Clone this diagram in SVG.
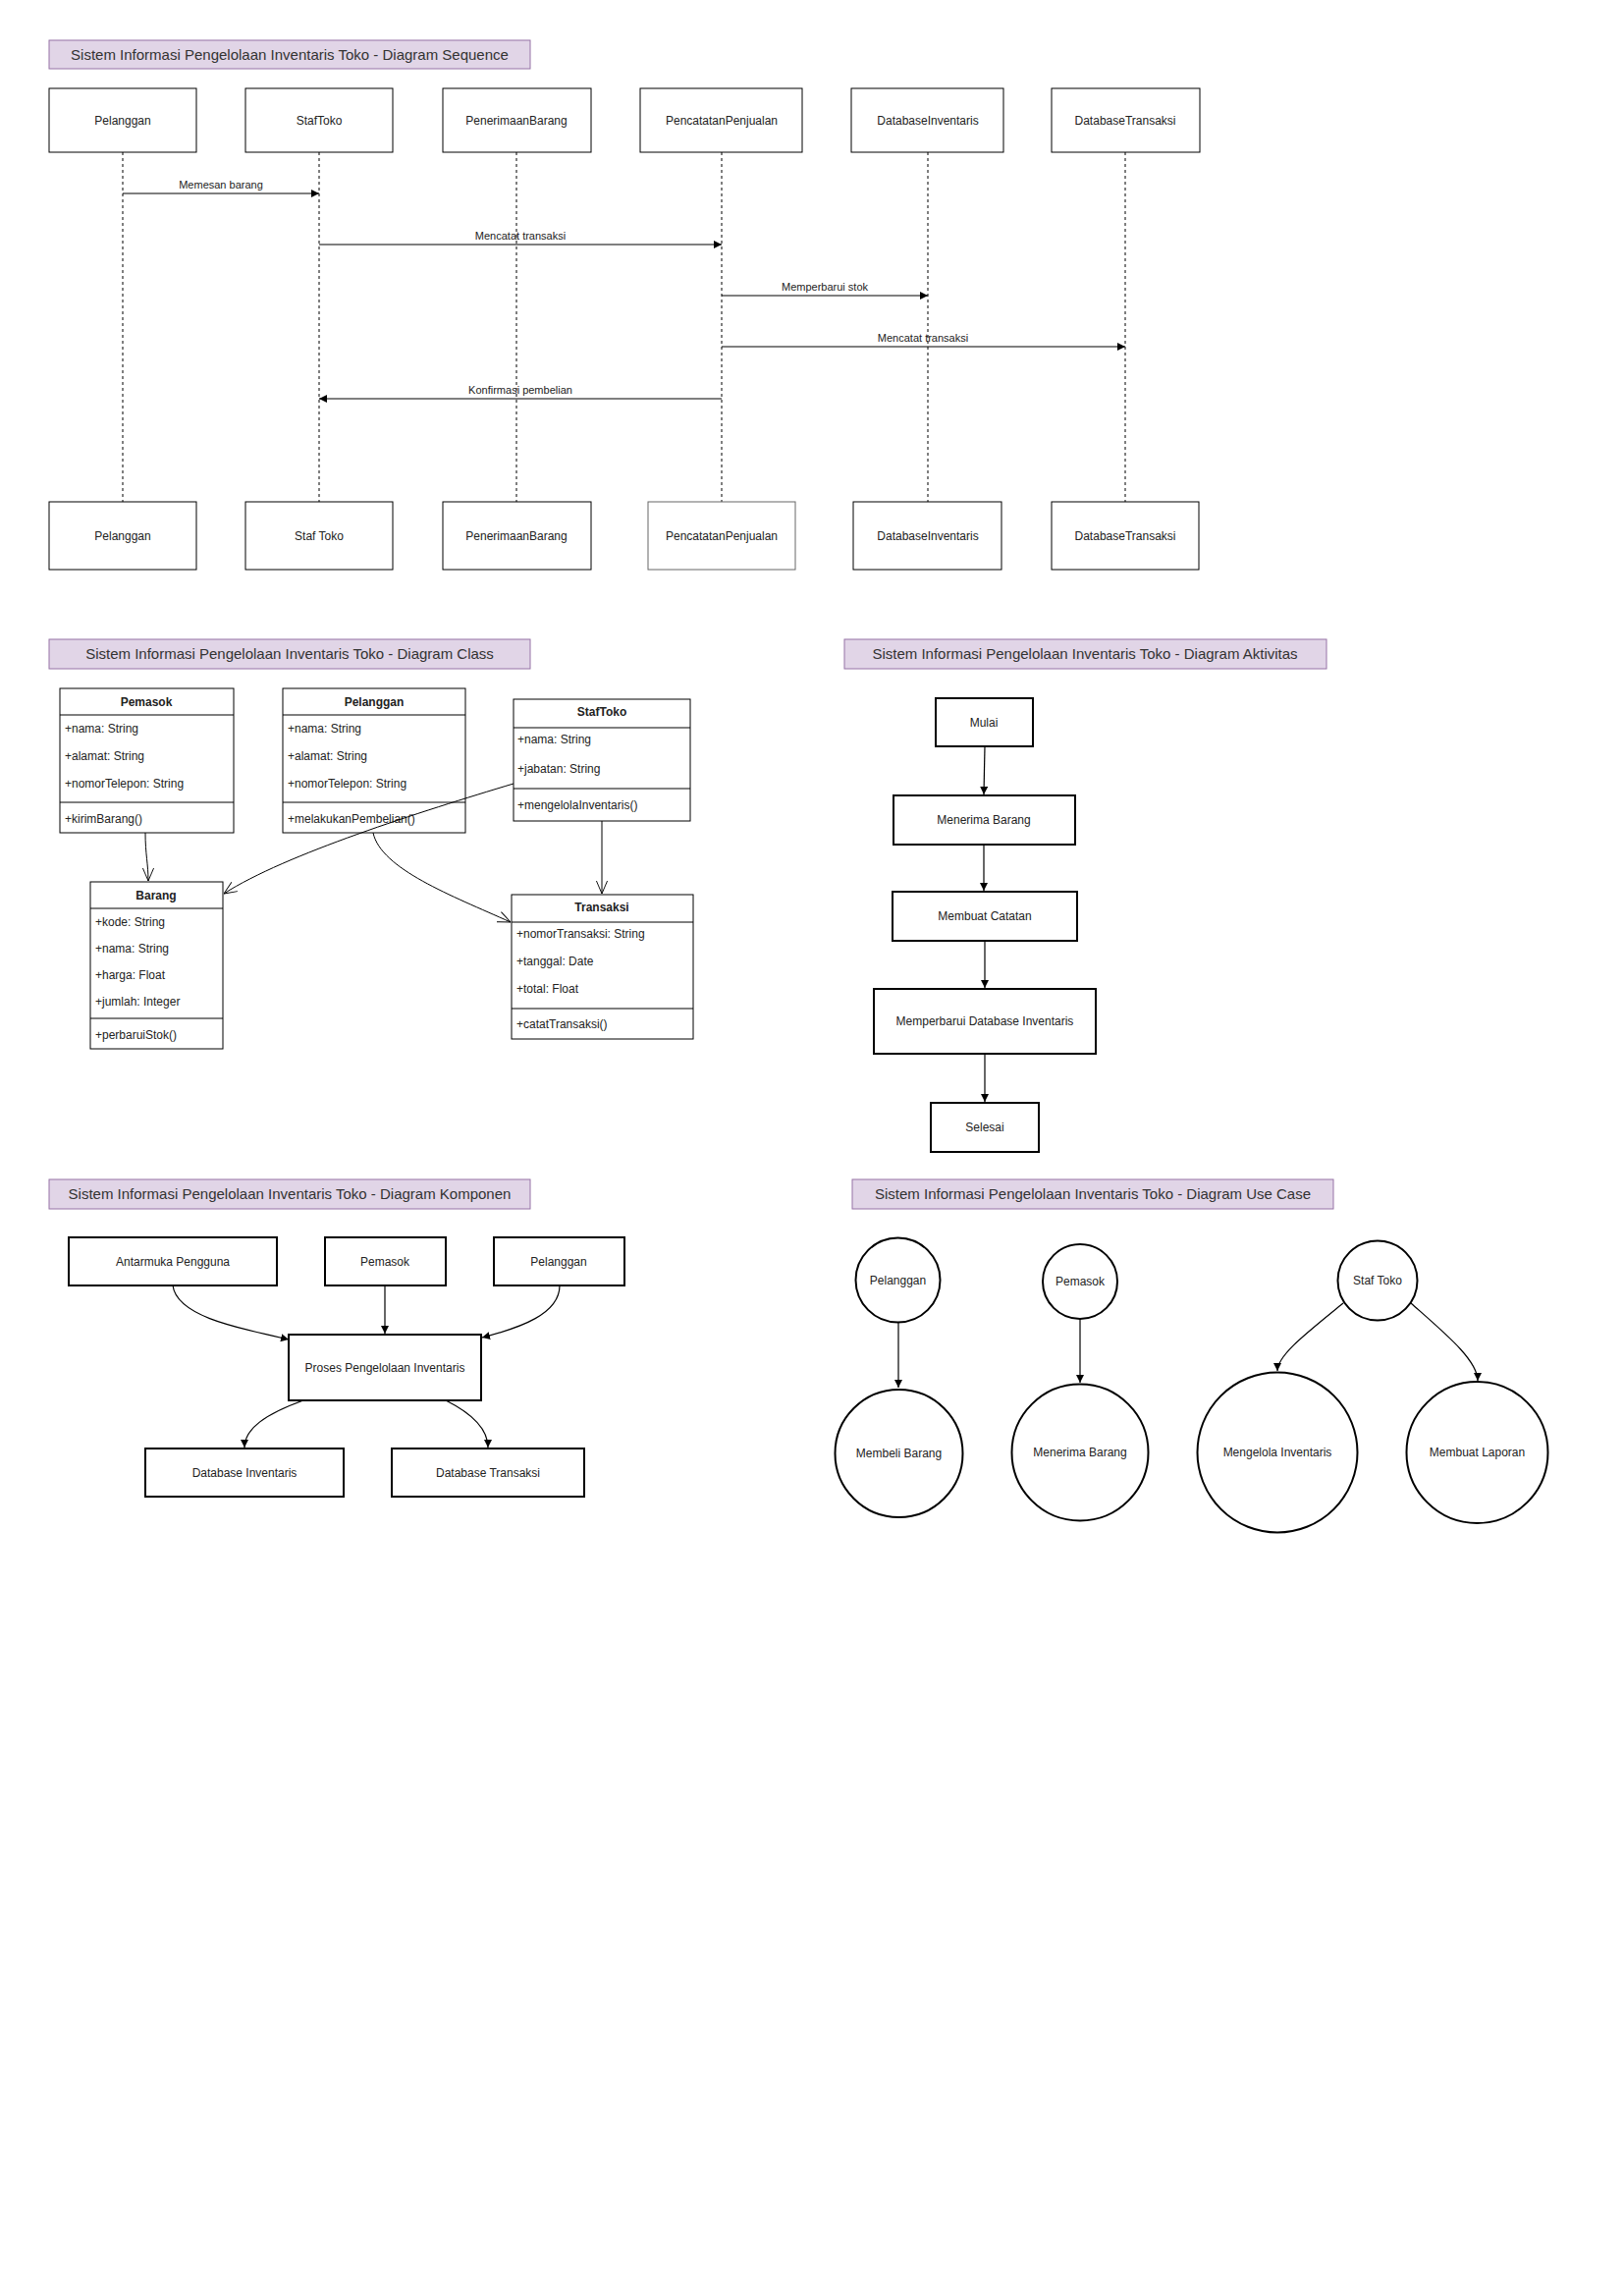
<svg xmlns="http://www.w3.org/2000/svg" width="1654" height="2338" viewBox="0 0 1654 2338">
<style>
text{font-family:"Liberation Sans",Arial,sans-serif;fill:#222}
.tb rect{fill:#e1d5e7;stroke:#9673a6;stroke-width:1}
.tb text{font-size:15px;text-anchor:middle;fill:#333}
.sq rect{fill:#fff;stroke:#000;stroke-width:1}
.sq text{font-size:12px;text-anchor:middle}
.ml{font-size:11px;text-anchor:middle}
.life{stroke:#000;stroke-width:1;stroke-dasharray:3,3;fill:none}
.msg{stroke:#000;stroke-width:1;fill:none;marker-end:url(#af)}
.cl rect{fill:#fff;stroke:#000;stroke-width:1}
.cl line{stroke:#000;stroke-width:1}
.cl text{font-size:12px}
.cl .hd{font-weight:bold;text-anchor:middle}
.ce{stroke:#000;stroke-width:1;fill:none;marker-end:url(#ao)}
.bx rect{fill:#fff;stroke:#000;stroke-width:2}
.bx text{font-size:12px;text-anchor:middle}
.uc circle{fill:#fff;stroke:#000;stroke-width:2}
.uc text{font-size:12px;text-anchor:middle}
.ed{stroke:#000;stroke-width:1.2;fill:none;marker-end:url(#af)}
</style>
<defs>
<marker id="af" viewBox="0 0 10 10" refX="10" refY="5" markerWidth="8" markerHeight="8" markerUnits="userSpaceOnUse" orient="auto">
<path d="M0,0 L10,5 L0,10 z" fill="#000"/>
</marker>
<marker id="ao" viewBox="0 0 14 14" refX="14" refY="7" markerWidth="13" markerHeight="13" markerUnits="userSpaceOnUse" orient="auto">
<path d="M0,1 L14,7 L0,13" fill="none" stroke="#000" stroke-width="1"/>
</marker>
</defs>
<rect width="1654" height="2338" fill="#fff"/>

<!-- Sequence diagram -->
<g id="title-sequence" class="tb"><rect x="50" y="41" width="490" height="29"/><text x="295" y="61">Sistem Informasi Pengelolaan Inventaris Toko - Diagram Sequence</text></g>
<g id="seq-lifelines">
<line class="life" x1="125" y1="155" x2="125" y2="511"/>
<line class="life" x1="325" y1="155" x2="325" y2="511"/>
<line class="life" x1="526" y1="155" x2="526" y2="511"/>
<line class="life" x1="735" y1="155" x2="735" y2="511"/>
<line class="life" x1="945" y1="155" x2="945" y2="511"/>
<line class="life" x1="1146" y1="155" x2="1146" y2="511"/>
</g>
<g id="seq-top-pelanggan" class="sq"><rect x="50" y="90" width="150" height="65"/><text x="125" y="127">Pelanggan</text></g>
<g id="seq-top-staftoko" class="sq"><rect x="250" y="90" width="150" height="65"/><text x="325" y="127">StafToko</text></g>
<g id="seq-top-penerimaan" class="sq"><rect x="451" y="90" width="151" height="65"/><text x="526" y="127">PenerimaanBarang</text></g>
<g id="seq-top-pencatatan" class="sq"><rect x="652" y="90" width="165" height="65"/><text x="735" y="127">PencatatanPenjualan</text></g>
<g id="seq-top-dbinv" class="sq"><rect x="867" y="90" width="155" height="65"/><text x="945" y="127">DatabaseInventaris</text></g>
<g id="seq-top-dbtrx" class="sq"><rect x="1071" y="90" width="151" height="65"/><text x="1146" y="127">DatabaseTransaksi</text></g>

<g id="seq-bot-pelanggan" class="sq"><rect x="50" y="511" width="150" height="69"/><text x="125" y="550">Pelanggan</text></g>
<g id="seq-bot-staftoko" class="sq"><rect x="250" y="511" width="150" height="69"/><text x="325" y="550">Staf Toko</text></g>
<g id="seq-bot-penerimaan" class="sq"><rect x="451" y="511" width="151" height="69"/><text x="526" y="550">PenerimaanBarang</text></g>
<g id="seq-bot-pencatatan" class="sq"><rect x="660" y="511" width="150" height="69" style="stroke:#666"/><text x="735" y="550">PencatatanPenjualan</text></g>
<g id="seq-bot-dbinv" class="sq"><rect x="869" y="511" width="151" height="69"/><text x="945" y="550">DatabaseInventaris</text></g>
<g id="seq-bot-dbtrx" class="sq"><rect x="1071" y="511" width="150" height="69"/><text x="1146" y="550">DatabaseTransaksi</text></g>

<g id="seq-messages">
<line class="msg" x1="125" y1="197" x2="325" y2="197"/><text class="ml" x="225" y="192">Memesan barang</text>
<line class="msg" x1="325" y1="249" x2="735" y2="249"/><text class="ml" x="530" y="244">Mencatat transaksi</text>
<line class="msg" x1="735" y1="301" x2="945" y2="301"/><text class="ml" x="840" y="296">Memperbarui stok</text>
<line class="msg" x1="735" y1="353" x2="1146" y2="353"/><text class="ml" x="940" y="348">Mencatat transaksi</text>
<line class="msg" x1="735" y1="406" x2="325" y2="406"/><text class="ml" x="530" y="401">Konfirmasi pembelian</text>
</g>

<!-- Class diagram -->
<g id="title-class" class="tb"><rect x="50" y="651" width="490" height="30"/><text x="295" y="671">Sistem Informasi Pengelolaan Inventaris Toko - Diagram Class</text></g>
<g id="class-pemasok" class="cl"><rect x="61" y="701" width="177" height="147"/><line x1="61" y1="728" x2="238" y2="728"/><line x1="61" y1="817" x2="238" y2="817"/>
<text class="hd" x="149" y="719">Pemasok</text><text x="66" y="746">+nama: String</text><text x="66" y="774">+alamat: String</text><text x="66" y="802">+nomorTelepon: String</text><text x="66" y="838">+kirimBarang()</text></g>
<g id="class-pelanggan" class="cl"><rect x="288" y="701" width="186" height="147"/><line x1="288" y1="728" x2="474" y2="728"/><line x1="288" y1="817" x2="474" y2="817"/>
<text class="hd" x="381" y="719">Pelanggan</text><text x="293" y="746">+nama: String</text><text x="293" y="774">+alamat: String</text><text x="293" y="802">+nomorTelepon: String</text><text x="293" y="838">+melakukanPembelian()</text></g>
<g id="class-staftoko" class="cl"><rect x="523" y="712" width="180" height="124"/><line x1="523" y1="741" x2="703" y2="741"/><line x1="523" y1="803" x2="703" y2="803"/>
<text class="hd" x="613" y="729">StafToko</text><text x="527" y="757">+nama: String</text><text x="527" y="787">+jabatan: String</text><text x="527" y="824">+mengelolaInventaris()</text></g>
<g id="class-barang" class="cl"><rect x="92" y="898" width="135" height="170"/><line x1="92" y1="925" x2="227" y2="925"/><line x1="92" y1="1037" x2="227" y2="1037"/>
<text class="hd" x="159" y="916">Barang</text><text x="97" y="943">+kode: String</text><text x="97" y="970">+nama: String</text><text x="97" y="997">+harga: Float</text><text x="97" y="1024">+jumlah: Integer</text><text x="97" y="1058">+perbaruiStok()</text></g>
<g id="class-transaksi" class="cl"><rect x="521" y="911" width="185" height="147"/><line x1="521" y1="939" x2="706" y2="939"/><line x1="521" y1="1027" x2="706" y2="1027"/>
<text class="hd" x="613" y="928">Transaksi</text><text x="526" y="955">+nomorTransaksi: String</text><text x="526" y="983">+tanggal: Date</text><text x="526" y="1011">+total: Float</text><text x="526" y="1047">+catatTransaksi()</text></g>
<g id="class-edges">
<path class="ce" d="M148,848 C148,870 151,880 151,897"/>
<path class="ce" d="M523,798 C430,826 290,870 228,910"/>
<path class="ce" d="M380,848 C388,885 460,912 520,939"/>
<path class="ce" d="M613,836 L613,910"/>
</g>

<!-- Activity diagram -->
<g id="title-activity" class="tb"><rect x="860" y="651" width="491" height="30"/><text x="1105" y="671">Sistem Informasi Pengelolaan Inventaris Toko - Diagram Aktivitas</text></g>
<g id="act-edges">
<path class="ed" d="M1003,760 L1002,809"/>
<path class="ed" d="M1002,860 L1002,907"/>
<path class="ed" d="M1003,958 L1003,1006"/>
<path class="ed" d="M1003,1073 L1003,1122"/>
</g>
<g id="act-mulai" class="bx"><rect x="953" y="711" width="99" height="49"/><text x="1002" y="740">Mulai</text></g>
<g id="act-menerima" class="bx"><rect x="910" y="810" width="185" height="50"/><text x="1002" y="839">Menerima Barang</text></g>
<g id="act-catatan" class="bx"><rect x="909" y="908" width="188" height="50"/><text x="1003" y="937">Membuat Catatan</text></g>
<g id="act-db" class="bx"><rect x="890" y="1007" width="226" height="66"/><text x="1003" y="1044">Memperbarui Database Inventaris</text></g>
<g id="act-selesai" class="bx"><rect x="948" y="1123" width="110" height="50"/><text x="1003" y="1152">Selesai</text></g>

<!-- Component diagram -->
<g id="title-component" class="tb"><rect x="50" y="1201" width="490" height="30"/><text x="295" y="1221">Sistem Informasi Pengelolaan Inventaris Toko - Diagram Komponen</text></g>
<g id="comp-edges">
<path class="ed" d="M176,1309 C180,1340 240,1352 294,1364"/>
<path class="ed" d="M392,1309 L392,1358"/>
<path class="ed" d="M570,1309 C570,1338 530,1352 491,1362"/>
<path class="ed" d="M309,1426 C270,1440 249,1455 249,1474"/>
<path class="ed" d="M454,1426 C482,1440 497,1455 497,1474"/>
</g>
<g id="comp-ui" class="bx"><rect x="70" y="1260" width="212" height="49"/><text x="176" y="1289">Antarmuka Pengguna</text></g>
<g id="comp-pemasok" class="bx"><rect x="331" y="1260" width="123" height="49"/><text x="392" y="1289">Pemasok</text></g>
<g id="comp-pelanggan" class="bx"><rect x="503" y="1260" width="133" height="49"/><text x="569" y="1289">Pelanggan</text></g>
<g id="comp-proses" class="bx"><rect x="294" y="1359" width="196" height="67"/><text x="392" y="1397">Proses Pengelolaan Inventaris</text></g>
<g id="comp-dbinv" class="bx"><rect x="148" y="1475" width="202" height="49"/><text x="249" y="1504">Database Inventaris</text></g>
<g id="comp-dbtrx" class="bx"><rect x="399" y="1475" width="196" height="49"/><text x="497" y="1504">Database Transaksi</text></g>

<!-- Use case diagram -->
<g id="title-usecase" class="tb"><rect x="868" y="1201" width="490" height="30"/><text x="1113" y="1221">Sistem Informasi Pengelolaan Inventaris Toko - Diagram Use Case</text></g>
<g id="uc-edges">
<path class="ed" d="M915,1347 L915,1413"/>
<path class="ed" d="M1100,1343 L1100,1408"/>
<path class="ed" d="M1368,1327 C1330,1358 1301,1380 1301,1396"/>
<path class="ed" d="M1437,1327 C1472,1358 1505,1385 1505,1406"/>
</g>
<g id="uc-pelanggan" class="uc"><circle cx="914.5" cy="1303.5" r="43"/><text x="914.5" y="1308">Pelanggan</text></g>
<g id="uc-pemasok" class="uc"><circle cx="1100" cy="1305" r="38"/><text x="1100" y="1309">Pemasok</text></g>
<g id="uc-staf" class="uc"><circle cx="1403" cy="1304" r="40.5"/><text x="1403" y="1308">Staf Toko</text></g>
<g id="uc-membeli" class="uc"><circle cx="915.5" cy="1480" r="65"/><text x="915.5" y="1484">Membeli Barang</text></g>
<g id="uc-menerima" class="uc"><circle cx="1100" cy="1479" r="69.5"/><text x="1100" y="1483">Menerima Barang</text></g>
<g id="uc-mengelola" class="uc"><circle cx="1301" cy="1479" r="81.5"/><text x="1301" y="1483">Mengelola Inventaris</text></g>
<g id="uc-laporan" class="uc"><circle cx="1504.5" cy="1479" r="72"/><text x="1504.5" y="1483">Membuat Laporan</text></g>
</svg>
